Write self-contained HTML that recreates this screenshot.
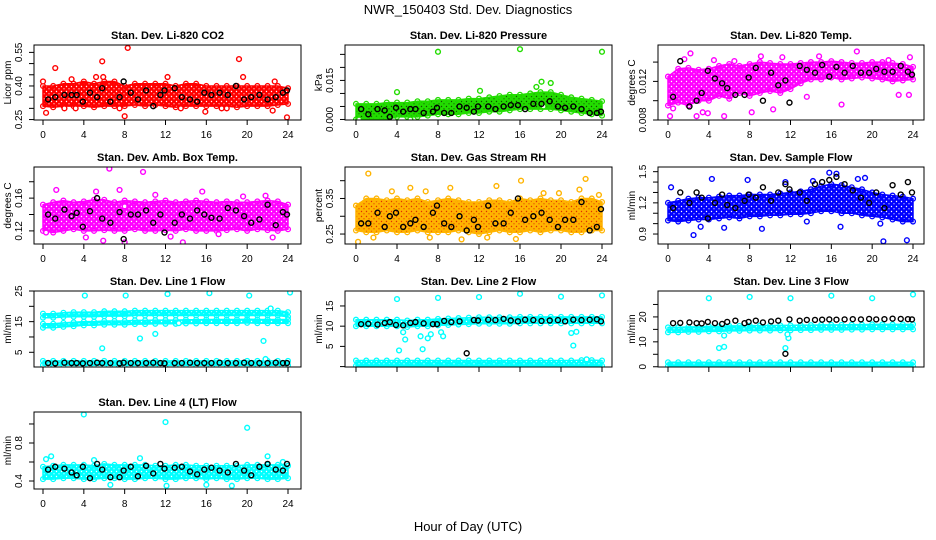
<!DOCTYPE html>
<html><head><meta charset="utf-8">
<style>
html,body{margin:0;padding:0;background:#fff;}
svg{display:block;font-family:"Liberation Sans",sans-serif;}
</style></head>
<body>
<svg id="chart" width="936" height="540" viewBox="0 0 936 540">
<defs id="defs"></defs>
<text x="468" y="14" text-anchor="middle" font-size="13">NWR_150403  Std. Dev. Diagnostics</text>
<text x="468" y="531" text-anchor="middle" font-size="13">Hour of Day (UTC)</text>
</svg>
<script>
// ---- shared data ----
const bandHours = [0,1,2,3,4,5,6,7,8,9,10,11,12,13,14,15,16,17,18,19,20,21,22,23,24];
const bkHours = [0.5,1.2,2.1,2.8,3.3,3.9,4.6,5.3,5.8,6.6,7.5,7.9,8.6,9.3,10.1,10.8,11.5,11.9,12.9,13.6,14.4,15.1,15.8,16.5,17.3,18.1,18.9,19.7,20.4,21.2,22.0,22.8,23.5,23.9];
const xTicks = [0,4,8,12,16,20,24];

// Panel 1 CO2
const p1Lo = [.31,.305,.31,.31,.31,.305,.31,.31,.31,.315,.31,.315,.31,.305,.31,.31,.31,.31,.31,.305,.31,.31,.31,.315,.32];
const p1Hi = [.40,.40,.41,.41,.42,.41,.42,.42,.40,.41,.41,.41,.41,.40,.41,.41,.40,.40,.40,.40,.40,.40,.40,.40,.39];
const p1OutX = [0,0.3,1.2,2.1,2.8,3.2,5.2,5.8,5.9,7.5,8.3,8.0,12.2,13.5,15.9,17.5,19.2,19.6,18,22.5,23.9,22.7];
const p1OutY = [.42,.28,.48,.30,.43,.30,.44,.51,.44,.30,.57,.265,.44,.30,.285,.30,.52,.44,.30,.29,.26,.42];
const p1Black = [.34,.35,.36,.36,.36,.33,.37,.35,.39,.33,.35,.42,.37,.34,.38,.31,.36,.38,.39,.35,.34,.33,.37,.36,.37,.36,.40,.34,.35,.36,.34,.35,.37,.38];
const p1Ticks = [.25,.30,.35,.40,.45,.50,.55];
const p1Labels = ["0.25","","","0.40","","","0.55"];

// Panel 2 Pressure
const p2Lo = [0,0,0,0,.001,.001,.001,.0015,.002,.002,.002,.0025,.0025,.003,.003,.0035,.004,.004,.004,.004,.0035,.003,.0025,.002,.0015];
const p2Hi = [.006,.006,.006,.0065,.0065,.0065,.007,.007,.0075,.0075,.0075,.008,.008,.0085,.009,.0095,.0095,.01,.0105,.0105,.0095,.0085,.008,.0075,.007];
const p2OutX = [8,16,24,4,12.1,17.6,18.1,19,5.3,0.3,18.3];
const p2OutY = [.026,.027,.026,.0105,.011,.0125,.0145,.014,0,0,.005];
const p2Black = [.004,.002,.004,.0035,.001,.0045,.003,.004,.004,.0025,.003,.0045,.0025,.0025,.005,.0045,.003,.005,.005,.004,.005,.0055,.0055,.004,.006,.006,.007,.005,.0045,.005,.004,.0025,.0025,.003];
const p2Ticks = [0,.005,.010,.015,.020,.025];
const p2Labels = ["0.000","","","0.015","",""];

// Panel 3 Li-820 Temp
const p3Lo = [.0095,.0098,.0095,.0100,.0100,.0105,.0102,.0108,.0105,.0108,.0110,.0108,.0112,.0118,.0122,.0122,.0124,.0122,.0123,.0124,.0123,.0122,.0120,.0121,.0122];
const p3Hi = [.0125,.0133,.0134,.0132,.0133,.0136,.0138,.0136,.0138,.0140,.0139,.0138,.0138,.0139,.0140,.0140,.0141,.0140,.0139,.0139,.0140,.0140,.0139,.0138,.0135];
const p3OutX = [0.2,0.5,1.6,2.2,2.8,3.4,3.9,5.5,8.2,9.1,10.3,11.2,13.6,14.8,17,18.5,21.6,23.7,23.6,22.6,6.5,4.5];
const p3OutY = [.0084,.0092,.0143,.0149,.0084,.0088,.0087,.0084,.0088,.0146,.0091,.0145,.0104,.0146,.0096,.0151,.0142,.0145,.0106,.0106,.0141,.0142];
const p3Black = [.0104,.0141,.0094,.0100,.0108,.0131,.0123,.0118,.0113,.0106,.0106,.0124,.0134,.0100,.0129,.0116,.0121,.0098,.0136,.0132,.0129,.0137,.0125,.0135,.0129,.0136,.0129,.0129,.0133,.0130,.0130,.0136,.0130,.0127];
const p3Ticks = [.008,.010,.012,.014];
const p3Labels = ["0.008","","0.012",""];

// Panel 4 Amb Box Temp
const p4Lo = [.12,.118,.12,.122,.12,.12,.121,.12,.12,.122,.12,.12,.121,.12,.122,.12,.12,.12,.121,.122,.12,.122,.121,.12,.122];
const p4Hi = [.152,.155,.157,.155,.156,.158,.158,.155,.157,.156,.155,.156,.157,.155,.156,.157,.156,.155,.156,.155,.155,.156,.157,.156,.152];
const p4OutX = [0.3,1.3,4.2,5.2,6.5,7.5,8.0,9.8,12.5,13.7,15.6,17.2,19.6,21.8,22.5,8,5.9,11];
const p4OutY = [.118,.17,.112,.168,.196,.17,.15,.192,.113,.106,.168,.116,.162,.163,.112,.106,.108,.164];
const p4Black = [.14,.135,.146,.138,.142,.125,.144,.16,.135,.13,.143,.11,.14,.14,.145,.13,.14,.118,.13,.14,.135,.145,.14,.136,.135,.148,.145,.138,.13,.134,.152,.127,.143,.14];
const p4Ticks = [.12,.14,.16,.18];
const p4Labels = ["0.12","","0.16",""];

// Panel 5 Gas Stream RH
const p5Lo = [.26,.255,.255,.26,.255,.255,.26,.255,.255,.255,.26,.255,.25,.255,.26,.255,.255,.26,.255,.26,.26,.255,.255,.26,.26];
const p5Hi = [.33,.35,.35,.345,.35,.345,.35,.34,.345,.35,.345,.34,.34,.345,.345,.34,.35,.345,.35,.345,.345,.34,.35,.35,.34];
const p5OutX = [0.2,1.2,1.7,3.5,5.3,6.8,9.2,10.3,12.8,13.7,16.1,18.3,19.8,21.8,22.4,23.7,7.2,15.6];
const p5OutY = [.228,.42,.24,.37,.38,.37,.38,.235,.24,.385,.40,.365,.365,.375,.405,.36,.24,.236];
const p5Black = [.28,.28,.31,.27,.30,.31,.27,.28,.29,.27,.31,.33,.28,.27,.30,.26,.29,.27,.33,.28,.28,.31,.35,.29,.30,.31,.29,.27,.29,.29,.34,.26,.27,.32];
const p5Ticks = [.25,.30,.35,.40];
const p5Labels = ["0.25","","0.35",""];

// Panel 6 Sample Flow
const p6Lo = [1.03,1.02,1.03,1.04,1.04,1.05,1.06,1.05,1.07,1.07,1.08,1.08,1.09,1.09,1.1,1.12,1.12,1.1,1.1,1.08,1.07,1.06,1.04,1.02,1.02];
const p6Hi = [1.2,1.22,1.24,1.25,1.25,1.26,1.27,1.27,1.28,1.28,1.28,1.29,1.3,1.31,1.33,1.36,1.38,1.37,1.35,1.33,1.3,1.28,1.27,1.26,1.24];
const p6OutX = [0.3,2.5,4.3,3.2,5.5,7.8,9.2,11.5,14.2,15.8,16.5,16.9,19.3,21.1,23.4,20.8,13.6,18.6];
const p6OutY = [1.35,0.89,1.43,0.97,0.96,1.42,0.95,1.4,1.41,1.49,1.48,0.97,1.44,0.83,0.84,1.0,1.02,1.43];
const p6Black = [1.15,1.3,1.2,1.3,1.25,1.05,1.2,1.28,1.18,1.15,1.22,1.28,1.25,1.35,1.22,1.3,1.38,1.33,1.3,1.22,1.38,1.4,1.42,1.45,1.38,1.32,1.25,1.2,1.3,1.15,1.37,1.28,1.4,1.3];
const p6Ticks = [0.9,1.0,1.1,1.2,1.3,1.4,1.5];
const p6Labels = ["0.9","","","1.2","","","1.5"];

// Panel 7 Line 1 Flow
const p7ALo = [16.3,16.3,16.5,16.6,16.6,16.6,16.8,16.8,16.8,17,17,17,17,17,17,17,17,17,17,17,17,17,17,17,16.6];
const p7AHi = [17.6,17.6,17.9,18.1,18.1,18.1,18.4,18.4,18.4,18.6,18.6,18.6,18.6,18.6,18.6,18.6,18.6,18.6,18.6,18.6,18.6,18.6,18.6,18.6,18.1];
const p7BLo = [13,13,13.3,13.5,13.8,13.8,14,14,14,14.2,14.2,14.3,14.3,14.3,14.4,14.4,14.5,14.5,14.5,14.5,14.6,14.5,14.5,14.5,14.5];
const p7BHi = [14.3,14.3,14.6,14.8,15,15,15.2,15.2,15.2,15.4,15.4,15.5,15.5,15.5,15.6,15.6,15.7,15.7,15.7,15.7,15.8,15.7,15.7,15.7,15.7];
const p7CLo = [0.8,0.8,0.8,0.8,0.8,0.8,0.8,0.8,0.8,0.8,0.8,0.8,0.8,0.8,0.8,0.8,0.8,0.8,0.8,0.8,0.8,0.8,0.8,0.8,0.8];
const p7CHi = [2.2,2.2,2.2,2.2,2.2,2.2,2.2,2.2,2.2,2.2,2.2,2.2,2.2,2.2,2.2,2.2,2.2,2.2,2.2,2.2,2.2,2.2,2.2,2.2,2.2];
const p7OutX = [4.1,8.1,12.2,16.3,20.2,24.2,5.8,9.5,11,21.6,22.3,21.8,13.3];
const p7OutY = [23.5,23.5,24,24.3,23.5,24.5,6.3,9.5,11,8.7,19.3,2.8,14.5];
const p7Black = [1.5,1.4,1.6,1.5,1.5,1.4,1.5,1.6,1.5,1.5,1.4,1.6,1.5,1.5,1.5,1.6,1.5,1.4,1.5,1.5,1.6,1.5,1.5,1.5,1.6,1.5,1.5,1.6,1.5,1.5,1.5,1.6,1.5,1.5];
const p7Ticks = [0,5,10,15,20,25];
const p7Labels = ["","5","","15","","25"];

// Panel 8 Line 2 Flow
const p8ALo = [10,10,10,10,10,9.8,10,10,10.2,10.3,10.4,10.5,10.6,10.6,10.6,10.6,10.7,10.7,10.7,10.7,10.7,10.7,10.7,10.7,10.7];
const p8AHi = [11.6,11.6,11.6,11.6,11.6,11.4,11.6,11.6,11.8,11.9,12,12.1,12.2,12.2,12.2,12.2,12.3,12.3,12.3,12.3,12.3,12.3,12.3,12.3,12.3];
const p8BLo = [0.2,0.2,0.2,0.2,0.2,0.2,0.2,0.2,0.2,0.2,0.2,0.2,0.2,0.2,0.2,0.2,0.2,0.2,0.2,0.2,0.2,0.2,0.2,0.2,0.2];
const p8BHi = [1.5,1.5,1.5,1.5,1.5,1.5,1.5,1.5,1.5,1.5,1.5,1.5,1.5,1.5,1.5,1.5,1.5,1.5,1.5,1.5,1.5,1.5,1.6,1.6,1.5];
const p8OutX = [4,8,12,16,20,24,4.2,4.8,4.6,6.5,6.3,7,7.3,8.3,8.5,21.2,21,21.5,22.5];
const p8OutY = [16.7,17,17.2,18,17.3,17.6,4,6.7,8.5,4.3,7.5,7,8,8.5,7.5,5.2,8.3,8.6,1.8];
const p8Black = [10.5,10.6,10.4,10.8,11,10.3,10.2,10.8,11,10.7,10.5,10.5,11.3,11,11.2,3.3,11.5,11.4,11.6,11.5,11.8,11.4,11.2,11.6,11.5,11.3,11.4,11.5,11.2,11.6,11.5,11.6,11.7,11.2];
const p8Ticks = [0,5,10,15];
const p8Labels = ["","5","10","15"];

// Panel 9 Line 3 Flow
const p9ALo = [13.8,13.8,14,14,14.2,14.2,14.4,14.4,14.5,14.5,14.5,14.6,14.6,14.7,14.7,14.8,14.8,14.8,14.9,14.9,15,15,15,15,15];
const p9AHi = [15.8,15.8,16,16,16.2,16.2,16.4,16.4,16.5,16.5,16.5,16.6,16.6,16.7,16.7,16.8,16.8,16.8,16.9,16.9,17,17,17,17,17];
const p9BLo = [0.3,0.3,0.3,0.3,0.3,0.3,0.3,0.3,0.3,0.3,0.3,0.3,0.3,0.3,0.3,0.3,0.3,0.3,0.3,0.3,0.3,0.3,0.3,0.3,0.3];
const p9BHi = [1.8,1.8,1.8,1.8,1.8,1.8,1.8,1.8,1.8,1.8,1.8,1.8,1.8,1.8,1.8,1.8,1.8,1.8,1.8,1.8,1.8,1.8,1.8,1.8,1.8];
const p9OutX = [4,8,12,16,20,24,5,5.5,5.5,11.5,11.8,11.7];
const p9OutY = [27.5,28,27.5,28.5,27.5,29,7.5,8,12.5,7.5,11.5,13];
const p9Black = [17.5,17.6,17.8,17.5,17.4,18,17.5,17.2,18,18.5,17.5,18,18.5,17.8,18.2,18.5,5.2,19,18.5,18.8,18.8,18.9,19,18.9,19,19.1,19,19.2,19,19.1,19.3,19.2,19.1,19];
const p9Ticks = [0,5,10,15,20,25];
const p9Labels = ["0","","10","","20",""];

// Panel 10 Line 4 (LT) Flow
const p10Lo = [.42,.42,.43,.43,.42,.42,.43,.43,.42,.42,.43,.43,.42,.42,.43,.43,.42,.43,.42,.42,.43,.43,.42,.42,.43];
const p10Hi = [.55,.56,.57,.57,.57,.56,.58,.57,.57,.57,.57,.56,.56,.57,.57,.56,.56,.56,.56,.56,.57,.57,.57,.57,.56];
const p10OutX = [4,12,20,0.3,0.8,5,9.5,16,18.5,12.1,6.6,22,23.5];
const p10OutY = [1.1,1.02,.96,.63,.66,.62,.64,.36,.35,.35,.36,.66,.6];
const p10Black = [.52,.55,.53,.49,.46,.55,.43,.58,.52,.44,.44,.51,.55,.45,.56,.48,.58,.53,.54,.55,.5,.47,.52,.54,.51,.49,.58,.51,.46,.55,.58,.52,.51,.58];
const p10Ticks = [0.4,0.6,0.8,1.0];
const p10Labels = ["0.4","","0.8",""];

// ---- drawing ----
const NS = "http://www.w3.org/2000/svg";
const svg = document.getElementById("chart");
const defs = document.getElementById("defs");
const cols = [{l:34,r:301,x0:43,x24:288},{l:345,r:612,x0:356,x24:602},{l:658,r:924,x0:668,x24:913}];
const rows = [{t:45,b:120},{t:167,b:244},{t:291,b:367},{t:412,b:489}];

function mk(tag, attrs, parent){
  const e = document.createElementNS(NS, tag);
  for (const k in attrs) e.setAttribute(k, attrs[k]);
  (parent||svg).appendChild(e);
  return e;
}

let patCount = 0;
function texture(color, dot){
  const id = "pat" + (patCount++);
  const p = mk("pattern", {id: id, width: 5, height: 5, patternUnits: "userSpaceOnUse"}, defs);
  mk("rect", {width: 5, height: 5, fill: color}, p);
  mk("circle", {cx: 1.5, cy: 1.5, r: 0.7, fill: dot}, p);
  mk("circle", {cx: 4, cy: 3.8, r: 0.6, fill: dot}, p);
  return "url(#" + id + ")";
}

function panel(slug, title, ylab, col, row, dom, ticks, labels, color, dot, bands, outX, outY, black, showX){
  const C = cols[col], R = rows[row];
  const g = mk("g", {});
  
  
  const xs = h => C.x0 + (C.x24 - C.x0) * h / 24;
  const ys = v => R.b - (v - dom[0]) / (dom[1] - dom[0]) * (R.b - R.t);
  const clip = mk("clipPath", {id: "clip-" + slug}, g);
  mk("rect", {x: C.l, y: R.t, width: C.r - C.l, height: R.b - R.t}, clip);
  const plot = mk("g", {"clip-path": "url(#clip-" + slug + ")"}, g);
  const fillRef = texture(color, dot);
  bands.forEach((b, bi) => {
    let d = "";
    bandHours.forEach((h, i) => { d += (i ? "L" : "M") + xs(h).toFixed(1) + "," + ys(b[1][i]).toFixed(1); });
    for (let i = bandHours.length - 1; i >= 0; i--) d += "L" + xs(bandHours[i]).toFixed(1) + "," + ys(b[0][i]).toFixed(1);
    const p = mk("path", {d: d + "Z", fill: fillRef, stroke: color, "stroke-width": 1.5, "stroke-linejoin": "round"}, plot);
    
    
    bandHours.forEach((h, i) => {
      [b[0][i], b[1][i]].forEach(v => {
        const c = mk("circle", {cx: xs(h), cy: ys(v), r: 2.4, fill: "none", stroke: color, "stroke-width": 1.3}, plot);
        
        
      });
    });
  });
  outX.forEach((h, i) => {
    const c = mk("circle", {cx: xs(h), cy: ys(outY[i]), r: 2.4, fill: "#fff", stroke: color, "stroke-width": 1.4}, plot);
    
    
  });
  bkHours.forEach((h, i) => {
    const c = mk("circle", {cx: xs(h), cy: ys(black[i]), r: 2.5, fill: "none", stroke: "#000", "stroke-width": 1.4}, plot);
    
    
  });
  const box = mk("rect", {x: C.l, y: R.t, width: C.r - C.l, height: R.b - R.t, fill: "none", stroke: "#000", "stroke-width": 1}, g);
  
  
  const t = mk("text", {x: (C.l + C.r) / 2, y: R.t - 6, "text-anchor": "middle", "font-size": 11, "font-weight": "bold"}, g);
  t.textContent = title;
  
  
  mk("line", {x1: xs(0), x2: xs(24), y1: R.b, y2: R.b, stroke: "#000"}, g);
  xTicks.forEach(h => {
    mk("line", {x1: xs(h), x2: xs(h), y1: R.b, y2: R.b + 5, stroke: "#000"}, g);
    if (showX) {
      const tl = mk("text", {x: xs(h), y: R.b + 18, "text-anchor": "middle", "font-size": 10}, g);
      tl.textContent = h;
      
      
    }
  });
  const yt = ticks.filter(v => v >= dom[0] - 1e-9 && v <= dom[1] + 1e-9);
  mk("line", {x1: C.l, x2: C.l, y1: ys(yt[0]), y2: ys(yt[yt.length - 1]), stroke: "#000"}, g);
  ticks.forEach((v, i) => {
    if (v < dom[0] - 1e-9 || v > dom[1] + 1e-9) return;
    mk("line", {x1: C.l - 5, x2: C.l, y1: ys(v), y2: ys(v), stroke: "#000"}, g);
    if (labels[i]) {
      const yl = mk("text", {x: 0, y: 0, "text-anchor": "middle", "font-size": 10, transform: "translate(" + (C.l - 12) + "," + ys(v) + ") rotate(-90)"}, g);
      yl.textContent = labels[i];
      
      
    }
  });
  const ya = mk("text", {x: 0, y: 0, "text-anchor": "middle", "font-size": 10, transform: "translate(" + (C.l - 23) + "," + ((R.t + R.b) / 2) + ") rotate(-90)"}, g);
  ya.textContent = ylab;
  
  
}

panel("co2", "Stan. Dev. Li-820 CO2", "Licor ppm", 0, 0, [0.248, 0.583], p1Ticks, p1Labels, "#ff0000", "#ffffff", [[p1Lo, p1Hi]], p1OutX, p1OutY, p1Black, true);
panel("pressure", "Stan. Dev. Li-820 Pressure", "kPa", 1, 0, [-0.0002, 0.0286], p2Ticks, p2Labels, "#22dd00", "#105000", [[p2Lo, p2Hi]], p2OutX, p2OutY, p2Black, true);
panel("licor-temp", "Stan. Dev. Li-820 Temp.", "degrees C", 2, 0, [0.0080, 0.01577], p3Ticks, p3Labels, "#ff00ff", "#ffffff", [[p3Lo, p3Hi]], p3OutX, p3OutY, p3Black, true);
panel("box-temp", "Stan. Dev. Amb. Box Temp.", "degrees C", 0, 1, [0.104, 0.198], p4Ticks, p4Labels, "#ff00ff", "#ffffff", [[p4Lo, p4Hi]], p4OutX, p4OutY, p4Black, true);
panel("gas-rh", "Stan. Dev. Gas Stream RH", "percent", 1, 1, [0.222, 0.4385], p5Ticks, p5Labels, "#ffb400", "#e03000", [[p5Lo, p5Hi]], p5OutX, p5OutY, p5Black, true);
panel("sample-flow", "Stan. Dev. Sample Flow", "ml/min", 2, 1, [0.804, 1.545], p6Ticks, p6Labels, "#0000ff", "#ffffff", [[p6Lo, p6Hi]], p6OutX, p6OutY, p6Black, true);
panel("line1-flow", "Stan. Dev. Line 1 Flow", "ml/min", 0, 2, [0.2, 25], p7Ticks, p7Labels, "#00ffff", "#ffffff", [[p7ALo, p7AHi], [p7BLo, p7BHi], [p7CLo, p7CHi]], p7OutX, p7OutY, p7Black, false);
panel("line2-flow", "Stan. Dev. Line 2 Flow", "ml/min", 1, 2, [-0.1, 18.7], p8Ticks, p8Labels, "#00ffff", "#ffffff", [[p8ALo, p8AHi], [p8BLo, p8BHi]], p8OutX, p8OutY, p8Black, false);
panel("line3-flow", "Stan. Dev. Line 3 Flow", "ml/min", 2, 2, [-0.1, 30.4], p9Ticks, p9Labels, "#00ffff", "#ffffff", [[p9ALo, p9AHi], [p9BLo, p9BHi]], p9OutX, p9OutY, p9Black, false);
panel("line4-flow", "Stan. Dev. Line 4 (LT) Flow", "ml/min", 0, 3, [0.316, 1.126], p10Ticks, p10Labels, "#00ffff", "#ffffff", [[p10Lo, p10Hi]], p10OutX, p10OutY, p10Black, true);
</script>
</body></html>
